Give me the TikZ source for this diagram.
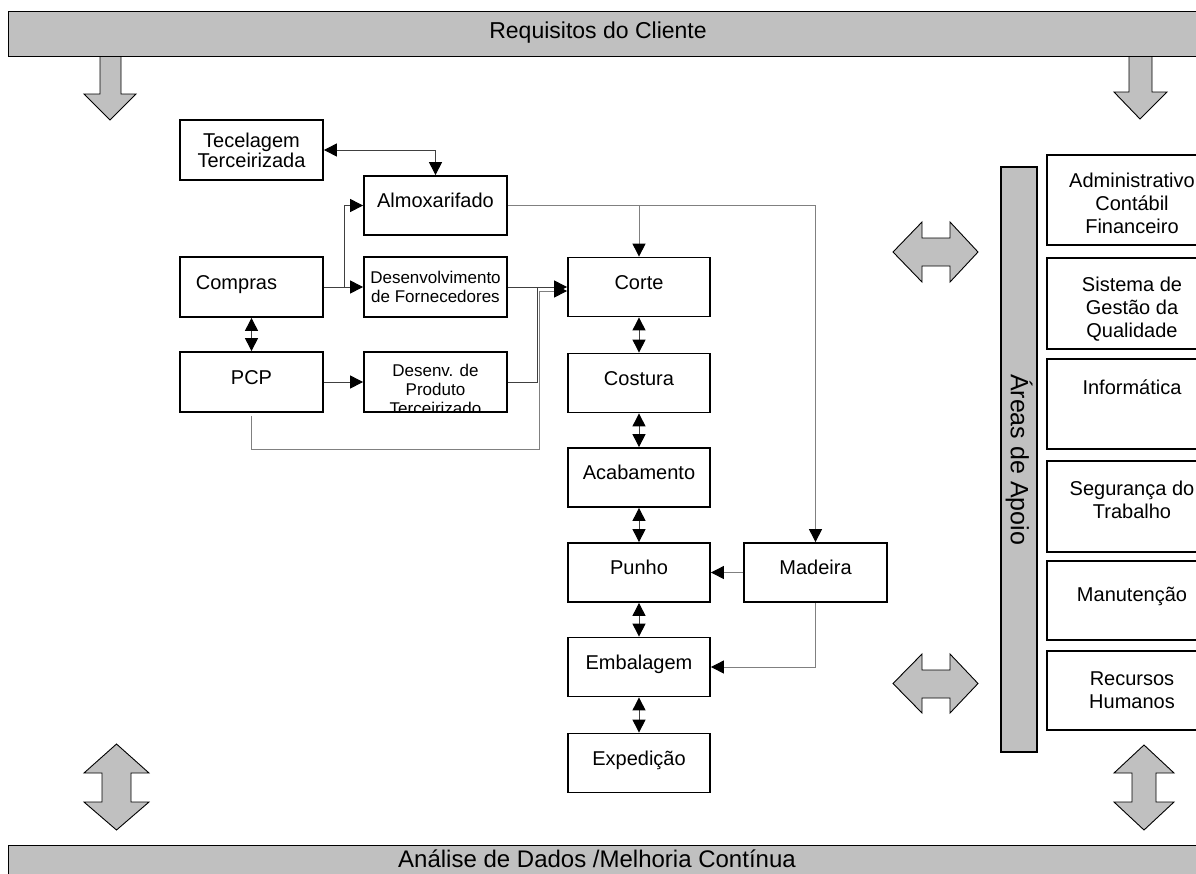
\documentclass[tikz,border=0pt]{standalone}
\usepackage{fontspec}
\setmainfont{Liberation Sans}
\usetikzlibrary{arrows.meta,calc}
\definecolor{panelgray}{RGB}{192,192,192}
\begin{document}
\begin{tikzpicture}[x=1pt,y=-1pt,
  >={Triangle[length=13pt,width=13pt,color=black]},
  box/.style={draw, line width=1.8pt, fill=white, inner sep=0pt,
    minimum width=142pt, minimum height=59pt, align=center,
    font=\fontsize{20}{20}\selectfont},
  oneline/.style={text height=14.5pt, text depth=10pt},
  small/.style={font=\fontsize{17}{19}\selectfont},
  side/.style={draw, line width=1.8pt, fill=white, inner sep=0pt, minimum width=170pt},
  sidetext/.style={inner sep=0pt, align=center, font=\fontsize{20}{23}\selectfont},
  band/.style={draw, line width=1.2pt, fill=panelgray, inner sep=0pt},
  bandtext/.style={inner sep=0pt, text height=16.5pt, text depth=4.5pt,
    font=\fontsize{23}{23}\selectfont},
  blockarrow/.style={draw, line width=0.9pt, fill=panelgray, line join=miter},
  conn/.style={draw=black!75, line width=1pt},
  pale/.style={draw=black!50, line width=1pt},
]
\useasboundingbox (0,0) rectangle (1196,873);
\clip (0,0) rectangle (1196,873);
\fill[white] (0,0) rectangle (1196,873);

% block arrows between the bands and the process
\draw[blockarrow] (100,56) -- (100,94) -- (84,94) -- (110,120) -- (136,94) -- (121,94) -- (121,56);
\draw[blockarrow] (1129,56) -- (1129,92) -- (1114,92) -- (1140,119) -- (1167,92) -- (1152,92) -- (1152,56);
\draw[blockarrow] (893,252) -- (922,222) -- (922,238) -- (950,238) -- (950,222) -- (978,252)
  -- (950,282) -- (950,266) -- (922,266) -- (922,282) -- cycle;
\draw[blockarrow] (893,683.5) -- (922,654) -- (922,670) -- (950,670) -- (950,654) -- (978,683.5)
  -- (950,713) -- (950,698) -- (922,698) -- (922,713) -- cycle;
\draw[blockarrow] (116.5,744) -- (149,773) -- (131,773) -- (131,802) -- (149,802) -- (116.5,830)
  -- (84,802) -- (102,802) -- (102,773) -- (84,773) -- cycle;
\draw[blockarrow] (1144,745) -- (1174,773) -- (1156,773) -- (1156,802) -- (1174,802) -- (1144,830)
  -- (1114,802) -- (1132,802) -- (1132,773) -- (1114,773) -- cycle;

% top and bottom bands
\node[band, anchor=north west, minimum width=1210pt, minimum height=45pt] (req) at (8,11) {};
\node[bandtext] (reqtxt) at (598,32.5) {Requisitos do Cliente};
\node[band, anchor=north west, minimum width=1210pt, minimum height=45pt] (ana) at (8,845) {};
\node[bandtext, font=\fontsize{24}{24}\selectfont] (anatxt) at (597,861.5) {Análise de Dados /Melhoria Contínua};

% planning and supply
\node[box, minimum width=143pt, minimum height=60pt] (tec) at (251.5,150) {Tecelagem\\Terceirizada};
\node[box, oneline, minimum width=143pt] (almox) at (435.5,205.5) {Almoxarifado};
\node[box, oneline, minimum width=143pt, minimum height=60pt] (compras) at (251.5,287) {Compras\hspace{30pt}};
\node[box, small, minimum width=143pt, minimum height=60pt] (desf) at (435.5,287) {Desenvolvimento\\de Fornecedores};
\node[box, oneline, minimum width=143pt, minimum height=60pt] (pcp) at (251.5,382) {PCP};
\node[box, minimum width=143pt, minimum height=60pt] (dpt) at (435.5,382) {};
\begin{scope}
  \clip ($(dpt.north west)+(2,2)$) rectangle ($(dpt.south east)+(-2,-2)$);
  \node[small, inner sep=0pt, align=center] (dpttxt) at (435.5,389.5) {Desenv. de\\Produto\\Terceirizado};
\end{scope}

% production line
\node[box, oneline] (corte) at (639,287) {Corte};
\node[box, oneline] (costura) at (639,383) {Costura};
\node[box, oneline] (acab) at (639,477.5) {Acabamento};
\node[box, oneline] (punho) at (639,572.5) {Punho};
\node[box, oneline] (emb) at (639,667) {Embalagem};
\node[box, oneline] (exped) at (639,763) {Expedição};
\node[box, oneline, minimum width=143pt] (madeira) at (815.5,572.5) {Madeira};

% support areas
\node[band, rotate=-90, minimum width=585pt, minimum height=36pt,
  font=\fontsize{25}{25}\selectfont] (apoio) at (1019,459.5) {Áreas de Apoio};
\node[side, minimum height=90pt] (adm) at (1132,200) {};
\node[sidetext] (admtxt) at (1132,203) {Administrativo\\Contábil\\Financeiro};
\node[side, minimum height=91pt] (sgq) at (1132,303.5) {};
\node[sidetext] (sgqtxt) at (1132,309) {Sistema de\\Gestão da\\Qualidade};
\node[side, minimum height=90pt] (info) at (1132,404) {};
\node[sidetext] (infotxt) at (1132,387) {Informática};
\node[side, minimum height=91pt] (seg) at (1132,506.5) {};
\node[sidetext] (segtxt) at (1132,500) {Segurança do\\Trabalho};
\node[side, minimum height=79pt] (man) at (1132,600.5) {};
\node[sidetext] (mantxt) at (1132,596) {Manutenção};
\node[side, minimum height=79pt] (rh) at (1132,690.5) {};
\node[sidetext] (rhtxt) at (1132,690) {Recursos\\Humanos};

% connectors
\draw[conn,<->] (tec.east) -| (almox.north);
\draw[conn,->] (compras.east) -- ++(21,0) |- (almox.west);
\draw[conn,->] (compras.east) -- (desf.west);
\draw[conn,<->] (compras.south) -- (pcp.north);
\draw[conn,->] (pcp.east) -- (dpt.west);
\draw[pale,->] ([yshift=-3pt]pcp.south) -- ++(0,34) -| ($(corte.west)+(-28,4)$) -- ($(corte.west)+(0,4)$);
\draw[conn] (dpt.east) -| ($(desf.east)!0.5!(corte.west)$);
\draw[conn,->] (desf.east) -- (corte.west);
\draw[pale,->] (almox.east) -| (madeira.north);
\draw[pale,->] (almox.east -| corte.north) -- (corte.north);
\draw[pale,->] (madeira.west) -- (punho.east);
\draw[pale,->] (madeira.south) |- (emb.east);
\foreach \a/\b in {corte/costura, costura/acab, acab/punho, punho/emb, emb/exped}
  \draw[conn,<->] (\a.south) -- (\b.north);
\end{tikzpicture}
\end{document}
